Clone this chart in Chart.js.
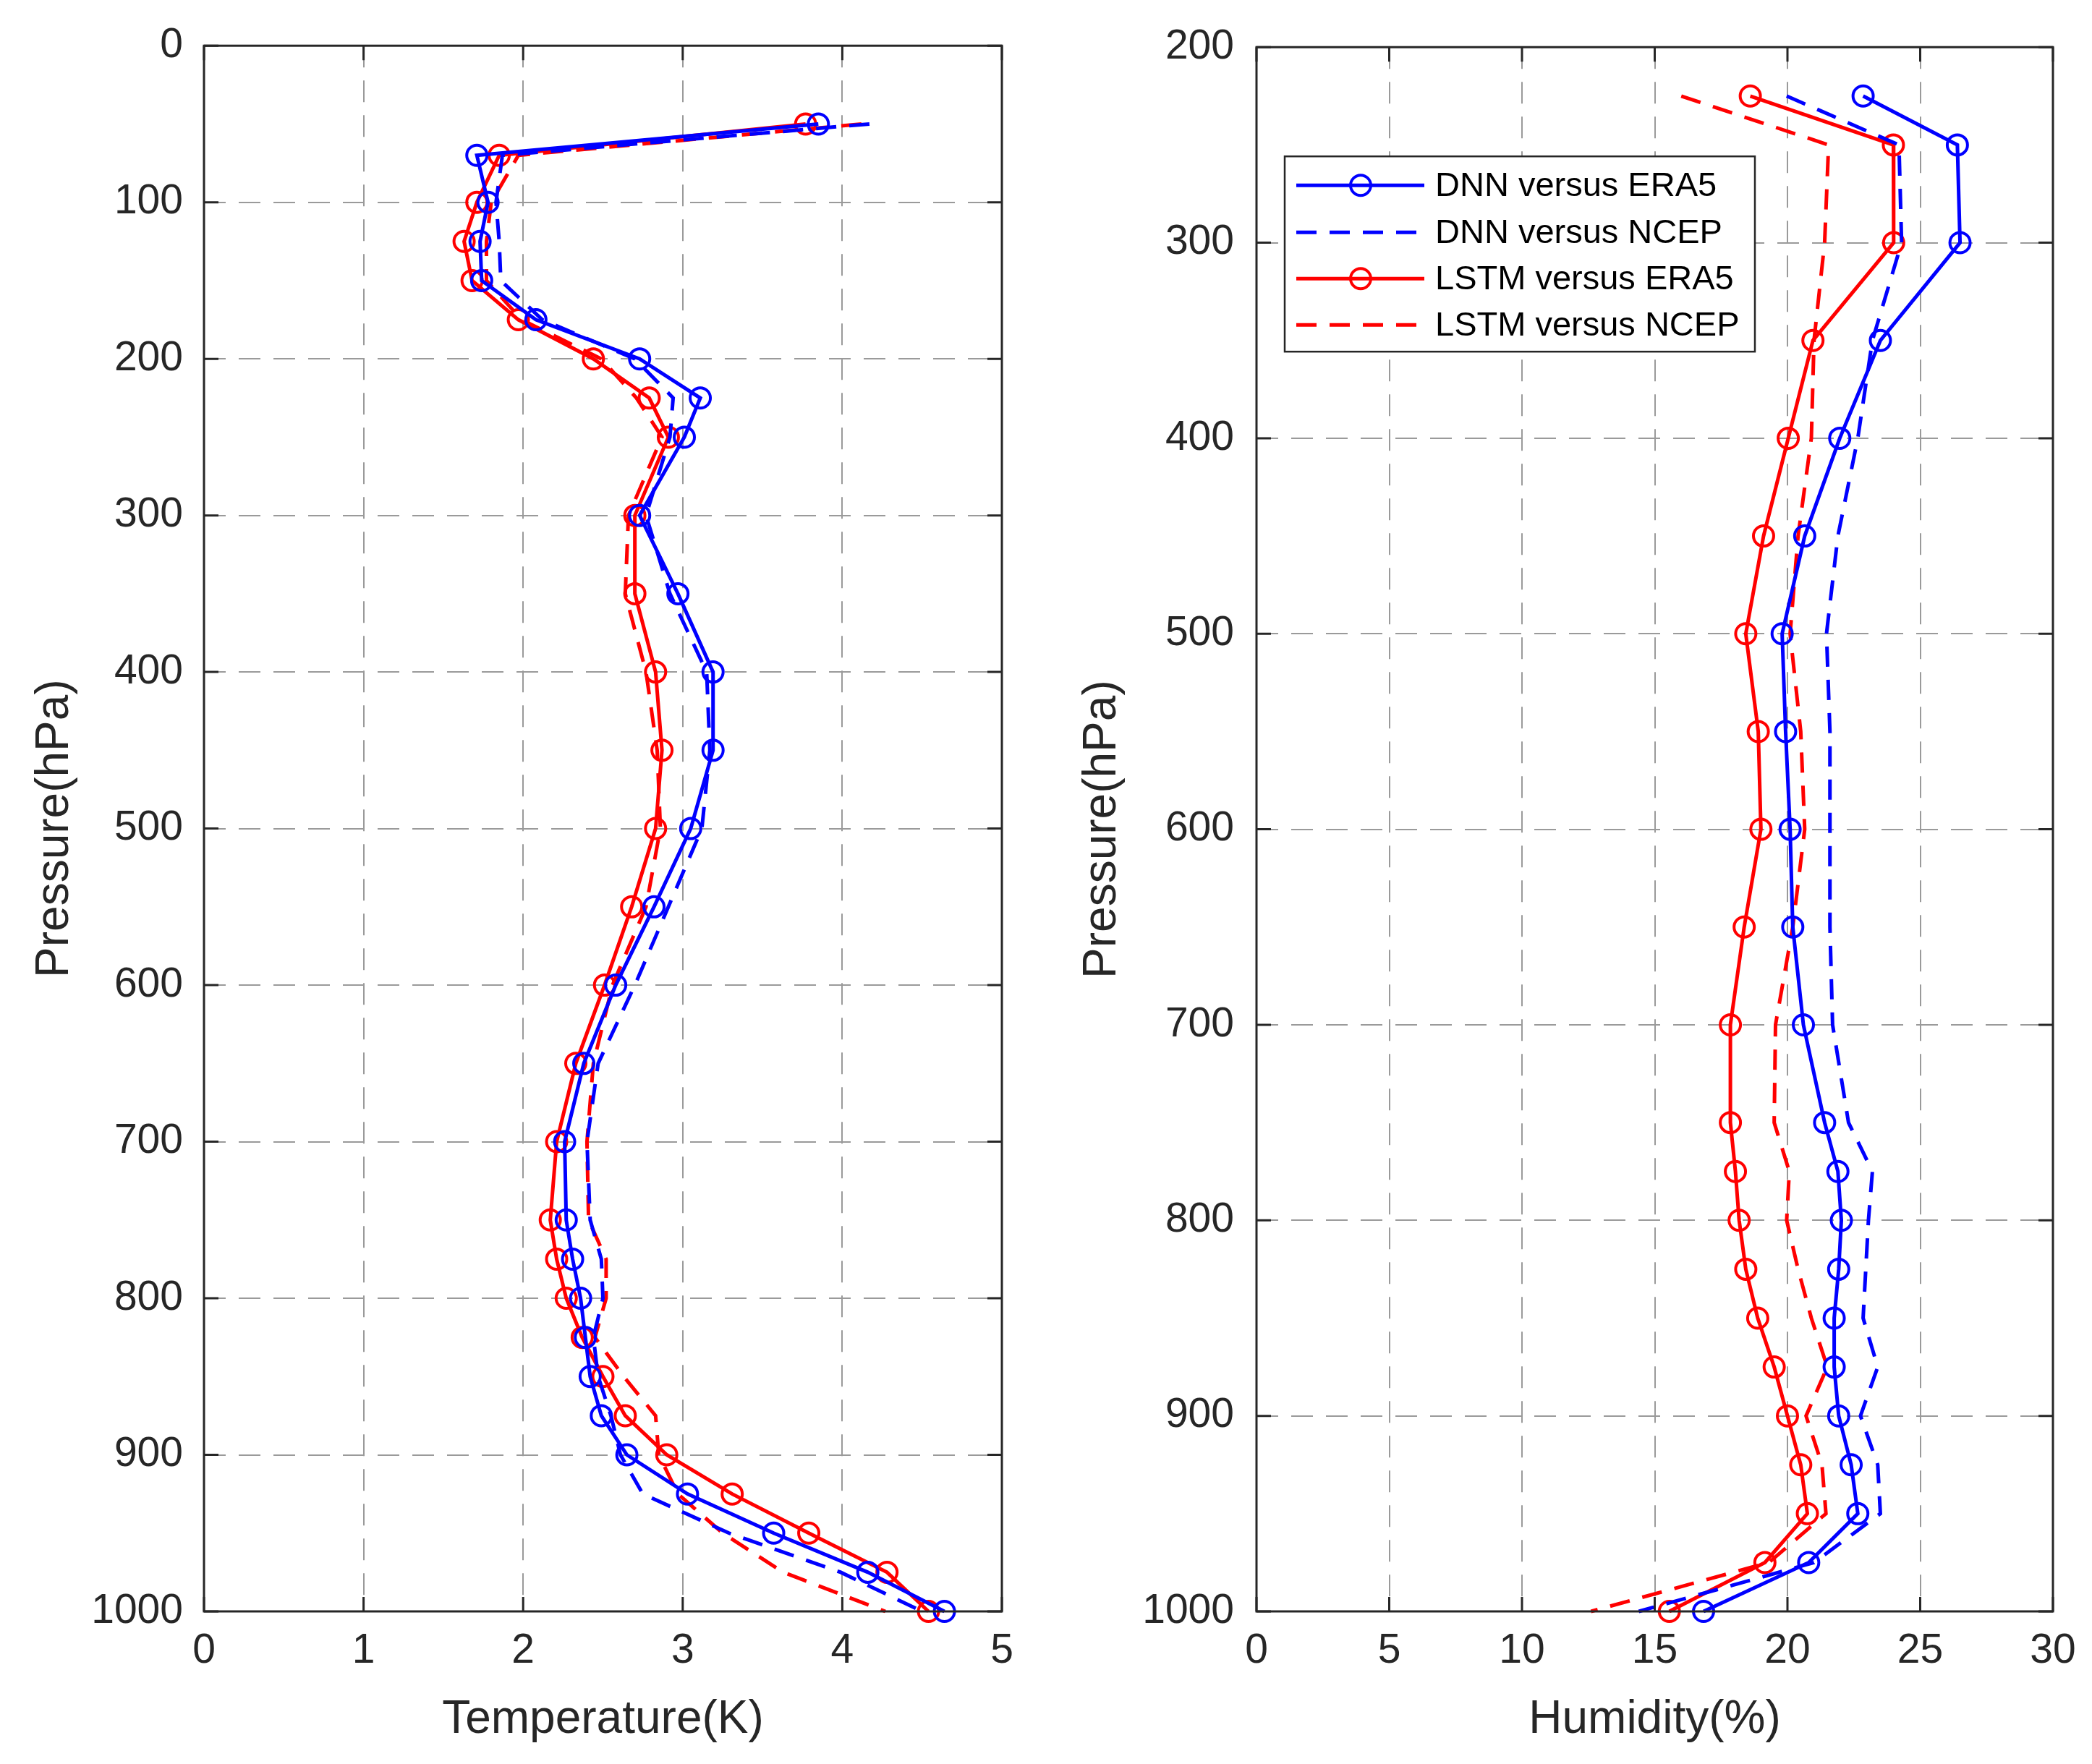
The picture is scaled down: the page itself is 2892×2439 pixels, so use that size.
<!DOCTYPE html>
<html>
<head>
<meta charset="utf-8">
<script src="https://cdn.jsdelivr.net/npm/chart.js@4.4.1/dist/chart.umd.min.js"></script>
<style>
  html, body { margin: 0; padding: 0; background: #fff; }
  #wrap { position: relative; width: 2892px; height: 2439px; }
  canvas { position: absolute; top: 0; }
</style>
</head>
<body>
<div id="wrap">
  <canvas id="tempChart" width="1440" height="2439" style="left:0;width:1440px;height:2439px"></canvas>
  <canvas id="humChart" width="1452" height="2439" style="left:1440px;width:1452px;height:2439px"></canvas>
</div>
<script>
// pressure levels (hPa)
const tempLevels = [50, 70, 100, 125, 150, 175, 200, 225, 250, 300, 350, 400, 450, 500, 550,
  600, 650, 700, 750, 775, 800, 825, 850, 875, 900, 925, 950, 975, 1000];
const humLevels = [225, 250, 300, 350, 400, 450, 500, 550, 600, 650, 700, 750, 775, 800,
  825, 850, 875, 900, 925, 950, 975, 1000];

// temperature RMSE (K)
const tempDnnEra5 = [3.85, 1.71, 1.78, 1.73, 1.74, 2.08, 2.73, 3.11, 3.01, 2.73, 2.97, 3.19, 3.19, 3.05, 2.82,
  2.58, 2.38, 2.26, 2.27, 2.31, 2.36, 2.39, 2.42, 2.49, 2.65, 3.03, 3.57, 4.16, 4.64];
const tempDnnNcep = [4.17, 1.87, 1.83, 1.85, 1.86, 2.12, 2.70, 2.94, 2.92, 2.77, 2.92, 3.15, 3.17, 3.12, 2.91,
  2.70, 2.47, 2.40, 2.42, 2.49, 2.50, 2.44, 2.47, 2.55, 2.61, 2.75, 3.29, 3.99, 4.50];
const tempLstmEra5 = [3.77, 1.85, 1.71, 1.63, 1.68, 1.97, 2.44, 2.79, 2.91, 2.70, 2.70, 2.83, 2.87, 2.83, 2.68,
  2.51, 2.33, 2.21, 2.17, 2.21, 2.27, 2.37, 2.50, 2.64, 2.90, 3.31, 3.79, 4.28, 4.54];
const tempLstmNcep = [4.12, 1.97, 1.80, 1.77, 1.77, 1.99, 2.49, 2.71, 2.87, 2.66, 2.64, 2.77, 2.84, 2.86, 2.77,
  2.56, 2.44, 2.40, 2.41, 2.52, 2.52, 2.45, 2.63, 2.83, 2.85, 2.97, 3.25, 3.63, 4.27];

// humidity RMSE (%)
const humDnnEra5 = [22.85, 26.4, 26.5, 23.5, 21.97, 20.65, 19.8, 19.93, 20.1, 20.2, 20.6, 21.4, 21.9, 22.03,
  21.93, 21.76, 21.76, 21.93, 22.4, 22.65, 20.8, 16.84];
const humDnnNcep = [19.97, 24.2, 24.3, 23.2, 22.65, 21.9, 21.47, 21.6, 21.6, 21.6, 21.7, 22.3, 23.2, 23.05,
  22.95, 22.85, 23.4, 22.75, 23.4, 23.5, 21.0, 14.4];
const humLstmEra5 = [18.6, 23.99, 24.0, 20.96, 20.03, 19.1, 18.43, 18.9, 19.0, 18.37, 17.85, 17.85, 18.04, 18.18,
  18.43, 18.88, 19.5, 20.0, 20.5, 20.75, 19.15, 15.55];
const humLstmNcep = [16.0, 21.55, 21.4, 21.0, 20.9, 20.4, 20.1, 20.5, 20.65, 20.2, 19.55, 19.5, 20.07, 19.97,
  20.4, 20.9, 21.5, 20.7, 21.3, 21.45, 19.3, 12.6];

const seriesLabels = ["DNN versus ERA5", "DNN versus NCEP", "LSTM versus ERA5", "LSTM versus NCEP"];

const FONT = "'Liberation Sans', Arial, sans-serif";
const AXIS = "#262626";

function toPoints(levels, values) {
  return values.map((v, i) => ({ x: v, y: levels[i] }));
}

function series(label, color, dashed, levels, values) {
  return {
    label: label,
    data: toPoints(levels, values),
    borderColor: color,
    borderWidth: 5,
    borderDash: dashed ? [28, 18] : [],
    pointStyle: "circle",
    pointRadius: dashed ? 0 : 14,
    pointHoverRadius: dashed ? 0 : 14,
    pointBorderWidth: 4,
    pointBorderColor: color,
    pointBackgroundColor: "rgba(0,0,0,0)",
    tension: 0,
    fill: false,
    clip: false,
  };
}

// axes box with inward ticks on all four sides, like MATLAB
const matlabBox = {
  id: "matlabBox",
  afterDatasetsDraw(chart) {
    const { ctx, chartArea: a } = chart;
    const x = chart.scales.x, y = chart.scales.y;
    ctx.save();
    ctx.setLineDash([]);
    ctx.strokeStyle = AXIS;
    ctx.lineWidth = 3;
    ctx.beginPath();
    x.ticks.forEach((t) => {
      const px = x.getPixelForValue(t.value);
      ctx.moveTo(px, a.bottom); ctx.lineTo(px, a.bottom - 20);
      ctx.moveTo(px, a.top); ctx.lineTo(px, a.top + 20);
    });
    y.ticks.forEach((t) => {
      const py = y.getPixelForValue(t.value);
      ctx.moveTo(a.left, py); ctx.lineTo(a.left + 20, py);
      ctx.moveTo(a.right, py); ctx.lineTo(a.right - 20, py);
    });
    ctx.stroke();
    ctx.strokeRect(a.left, a.top, a.right - a.left, a.bottom - a.top);
    ctx.restore();
  },
};

// legend box drawn inside the humidity axes
const insideLegend = {
  id: "insideLegend",
  afterDraw(chart) {
    const { ctx, chartArea: a } = chart;
    const left = a.left + 39, top = a.top + 151, w = 650, h = 270;
    ctx.save();
    ctx.fillStyle = "#fff";
    ctx.fillRect(left, top, w, h);
    ctx.setLineDash([]);
    ctx.strokeStyle = AXIS;
    ctx.lineWidth = 2.5;
    ctx.strokeRect(left, top, w, h);
    const rows = [40, 105, 169, 233];
    chart.data.datasets.forEach((ds, i) => {
      const cy = top + rows[i];
      ctx.strokeStyle = ds.borderColor;
      ctx.lineWidth = ds.borderWidth;
      ctx.setLineDash(ds.borderDash);
      ctx.beginPath();
      ctx.moveTo(left + 16, cy);
      ctx.lineTo(left + 193, cy);
      ctx.stroke();
      ctx.setLineDash([]);
      if (ds.pointRadius > 0) {
        ctx.lineWidth = ds.pointBorderWidth;
        ctx.beginPath();
        ctx.arc(left + 105, cy, ds.pointRadius, 0, Math.PI * 2);
        ctx.stroke();
      }
      ctx.fillStyle = "#000";
      ctx.font = "47px " + FONT;
      ctx.textAlign = "left";
      ctx.textBaseline = "middle";
      ctx.fillText(ds.label, left + 208, cy + 2);
    });
    ctx.restore();
  },
};

function makeChart(id, datasets, opts) {
  return new Chart(document.getElementById(id), {
    type: "line",
    data: { datasets: datasets },
    options: {
      responsive: false,
      devicePixelRatio: 1,
      animation: false,
      indexAxis: "y",
      layout: { padding: { top: 59, right: opts.padRight, bottom: 0, left: 0 } },
      plugins: { legend: { display: false }, tooltip: { enabled: false } },
      scales: {
        x: {
          type: "linear",
          position: "bottom",
          min: opts.xMin,
          max: opts.xMax,
          afterFit: (s) => { s.height = 211; },
          afterBuildTicks: (s) => { s.ticks = opts.xTicks.map((v) => ({ value: v })); },
          ticks: { color: AXIS, font: { family: FONT, size: 57 }, padding: 21, maxRotation: 0,
            callback: (v) => String(v) },
          grid: { color: "#9a9a9a", lineWidth: 2, drawTicks: false },
          border: { display: false, dash: [30, 18] },
          title: { display: true, text: opts.xTitle, color: AXIS,
            font: { family: FONT, size: 64 }, padding: { top: 0, bottom: 22 } },
        },
        y: {
          type: "linear",
          position: "left",
          reverse: true,
          min: opts.yMin,
          max: 1000,
          afterFit: (s) => { s.width = opts.yWidth; },
          ticks: { stepSize: 100, color: AXIS, font: { family: FONT, size: 57 }, padding: opts.yTickPad,
            callback: (v) => String(v) },
          grid: { color: "#9a9a9a", lineWidth: 2, drawTicks: false },
          border: { display: false, dash: [30, 18] },
          title: { display: true, text: "Pressure(hPa)", color: AXIS,
            font: { family: FONT, size: 64 }, padding: { top: opts.yTitlePad, bottom: 0 } },
        },
      },
    },
    plugins: opts.plugins,
  });
}

makeChart("tempChart", [
  series(seriesLabels[0], "#0000ff", false, tempLevels, tempDnnEra5),
  series(seriesLabels[1], "#0000ff", true, tempLevels, tempDnnNcep),
  series(seriesLabels[2], "#ff0000", false, tempLevels, tempLstmEra5),
  series(seriesLabels[3], "#ff0000", true, tempLevels, tempLstmNcep),
], {
  xMin: 0, xMax: 5, xTicks: [0, 1, 2, 3, 4, 5], xTitle: "Temperature(K)",
  yMin: 0, yWidth: 282, yTickPad: 29, yTitlePad: 38, padRight: 55,
  plugins: [matlabBox],
});

makeChart("humChart", [
  series(seriesLabels[0], "#0000ff", false, humLevels, humDnnEra5),
  series(seriesLabels[1], "#0000ff", true, humLevels, humDnnNcep),
  series(seriesLabels[2], "#ff0000", false, humLevels, humLstmEra5),
  series(seriesLabels[3], "#ff0000", true, humLevels, humLstmNcep),
], {
  xMin: 0, xMax: 30, xTicks: [0, 5, 10, 15, 20, 25, 30], xTitle: "Humidity(%)",
  yMin: 200, yWidth: 297, yTickPad: 31, yTitlePad: 46, padRight: 54,
  plugins: [matlabBox, insideLegend],
});
</script>
</body>
</html>
